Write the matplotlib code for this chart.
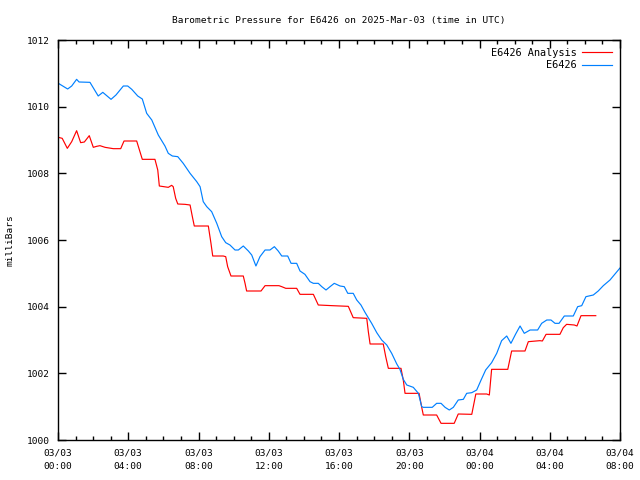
import matplotlib
matplotlib.use("Agg")
import matplotlib.pyplot as plt
from matplotlib.ticker import MultipleLocator

# Hours since 2025-03-03 00:00 UTC
obs_hours = [0.02, 0.55, 0.78, 1.06, 1.20, 1.82, 2.29, 2.55, 3.02, 3.30, 3.72, 3.97, 4.20, 4.54,
             4.80, 5.05, 5.34, 5.71, 6.09, 6.28, 6.51, 6.82, 7.13, 7.52, 7.90, 8.09, 8.27, 8.47,
             8.75, 9.04, 9.32, 9.55, 9.79, 10.08, 10.27, 10.55, 10.84, 11.03, 11.27, 11.50, 11.79,
             12.07, 12.32, 12.54, 12.74, 13.08, 13.27, 13.59, 13.78, 14.06, 14.35, 14.54, 14.82,
             15.02, 15.26, 15.49, 15.73, 16.06, 16.30, 16.50, 16.81, 17.01, 17.25, 17.48, 17.86,
             18.15, 18.43, 18.72, 19.00, 19.29, 19.47, 19.66, 19.86, 20.23, 20.52, 20.71, 20.80,
             21.31, 21.56, 21.81, 22.04, 22.28, 22.51, 22.79, 23.08, 23.27, 23.56, 23.84, 24.09,
             24.35, 24.69, 24.98, 25.26, 25.55, 25.79, 26.06, 26.31, 26.55, 26.88, 27.31, 27.54,
             27.83, 28.07, 28.30, 28.53, 28.83, 29.34, 29.59, 29.82, 30.06, 30.48, 30.76, 31.05,
             31.43, 32.00]
obs_pressure = [1010.70, 1010.53, 1010.62, 1010.82, 1010.74, 1010.73, 1010.32, 1010.43, 1010.22,
                1010.35, 1010.62, 1010.62, 1010.52, 1010.32, 1010.23, 1009.80, 1009.60, 1009.15,
                1008.82, 1008.60, 1008.52, 1008.50, 1008.30, 1008.00, 1007.75, 1007.60, 1007.15,
                1007.00, 1006.85, 1006.50, 1006.10, 1005.92, 1005.85, 1005.70, 1005.70, 1005.82,
                1005.67, 1005.55, 1005.22, 1005.50, 1005.70, 1005.70, 1005.80, 1005.67, 1005.52,
                1005.52, 1005.30, 1005.30, 1005.07, 1004.97, 1004.75, 1004.70, 1004.70, 1004.60,
                1004.50, 1004.60, 1004.70, 1004.62, 1004.60, 1004.40, 1004.40, 1004.20, 1004.05,
                1003.83, 1003.50, 1003.22, 1003.00, 1002.85, 1002.60, 1002.28, 1002.12, 1001.82,
                1001.65, 1001.58, 1001.40, 1001.00, 1000.98, 1000.98, 1001.10, 1001.10, 1000.98,
                1000.90, 1000.98, 1001.20, 1001.22, 1001.40, 1001.42, 1001.50, 1001.80, 1002.10,
                1002.32, 1002.60, 1002.98, 1003.12, 1002.90, 1003.18, 1003.42, 1003.20, 1003.30,
                1003.30, 1003.50, 1003.60, 1003.60, 1003.50, 1003.50, 1003.72, 1003.72, 1004.00,
                1004.03, 1004.30, 1004.35, 1004.47, 1004.63, 1004.80, 1005.16]

ana_hours = [0.02, 0.24, 0.53, 0.78, 1.06, 1.29, 1.50, 1.78, 2.01, 2.20, 2.39, 2.68, 3.15, 3.57,
             3.76, 4.48, 4.80, 5.52, 5.68, 5.77, 6.28, 6.47, 6.56, 6.70, 6.82, 7.23, 7.52, 7.65,
             7.76, 8.56, 8.71, 8.81, 9.41, 9.55, 9.66, 9.85, 10.55, 10.65, 10.74, 11.56, 11.79,
             12.58, 12.74, 12.97, 13.59, 13.78, 14.54, 14.82, 15.62, 16.53, 16.81, 17.58, 17.67,
             17.77, 18.52, 18.66, 18.81, 19.53, 19.66, 19.76, 20.56, 20.71, 20.80, 21.56, 21.81,
             22.56, 22.79, 23.56, 23.79, 24.41, 24.56, 24.69, 25.61, 25.83, 26.59, 26.78, 27.44,
             27.58, 27.79, 28.58, 28.77, 28.96, 29.40, 29.55, 29.78, 30.62]
ana_pressure = [1009.08, 1009.05, 1008.75, 1008.95, 1009.28, 1008.92, 1008.94, 1009.13, 1008.78,
                1008.81, 1008.83, 1008.78, 1008.74, 1008.74, 1008.97, 1008.97, 1008.42, 1008.42,
                1008.10, 1007.62, 1007.58, 1007.64, 1007.60, 1007.25, 1007.08, 1007.07, 1007.05,
                1006.70, 1006.42, 1006.42, 1005.90, 1005.52, 1005.52, 1005.50, 1005.20, 1004.92,
                1004.92, 1004.70, 1004.47, 1004.47, 1004.63, 1004.63, 1004.60, 1004.55, 1004.55,
                1004.37, 1004.37, 1004.05, 1004.03, 1004.01, 1003.67, 1003.65, 1003.25, 1002.88,
                1002.88, 1002.50, 1002.15, 1002.15, 1001.80, 1001.40, 1001.40, 1000.98, 1000.75,
                1000.75, 1000.50, 1000.50, 1000.78, 1000.77, 1001.38, 1001.38, 1001.35, 1002.12,
                1002.12, 1002.67, 1002.67, 1002.95, 1002.98, 1002.97, 1003.17, 1003.17, 1003.37,
                1003.47, 1003.45, 1003.42, 1003.73, 1003.73]

x_tick_hours = [0, 4, 8, 12, 16, 20, 24, 28, 32]
x_tick_labels = ["03/03\n00:00", "03/03\n04:00", "03/03\n08:00", "03/03\n12:00", "03/03\n16:00",
                 "03/03\n20:00", "03/04\n00:00", "03/04\n04:00", "03/04\n08:00"]
y_ticks = [1000, 1002, 1004, 1006, 1008, 1010, 1012]

FONT = "DejaVu Sans Mono"
FS = 6.8

fig = plt.figure(figsize=(6.4, 4.8), dpi=100)
ax = fig.add_axes([58 / 640, 40 / 480, 562 / 640, 400 / 480])

ax.plot(ana_hours, ana_pressure, color="#ff0000", lw=0.85, label="E6426 Analysis")
ax.plot(obs_hours, obs_pressure, color="#0080ff", lw=0.85, label="E6426")

ax.set_xlim(0, 32)
ax.set_ylim(1000, 1012)
ax.set_xticks(x_tick_hours)
ax.set_xticklabels(x_tick_labels, fontfamily=FONT, fontsize=FS, linespacing=1.7)
ax.xaxis.set_minor_locator(MultipleLocator(1))
ax.set_yticks(y_ticks)
ax.set_yticklabels([str(v) for v in y_ticks], fontfamily=FONT, fontsize=FS)

ax.tick_params(axis="both", which="major", direction="in", length=6, width=1,
               top=True, right=True, pad=6)
ax.tick_params(axis="x", which="minor", direction="in", length=3, width=1, top=True)
for s in ax.spines.values():
    s.set_linewidth(1)
    s.set_color("black")

ax.set_title("Barometric Pressure for E6426 on 2025-Mar-03 (time in UTC)",
             fontfamily=FONT, fontsize=FS, pad=12)
ax.set_ylabel("milliBars", fontfamily=FONT, fontsize=FS, labelpad=9)

leg = ax.legend(loc="upper right", frameon=False, prop={"family": FONT, "size": FS + 0.6},
                markerfirst=False, handlelength=2.9, handletextpad=0.6,
                borderaxespad=0.35, labelspacing=0.25)
for t in leg.get_texts():
    t.set_ha("right")
leg._legend_box.align = "right"

fig.savefig("out.png", dpi=100)
